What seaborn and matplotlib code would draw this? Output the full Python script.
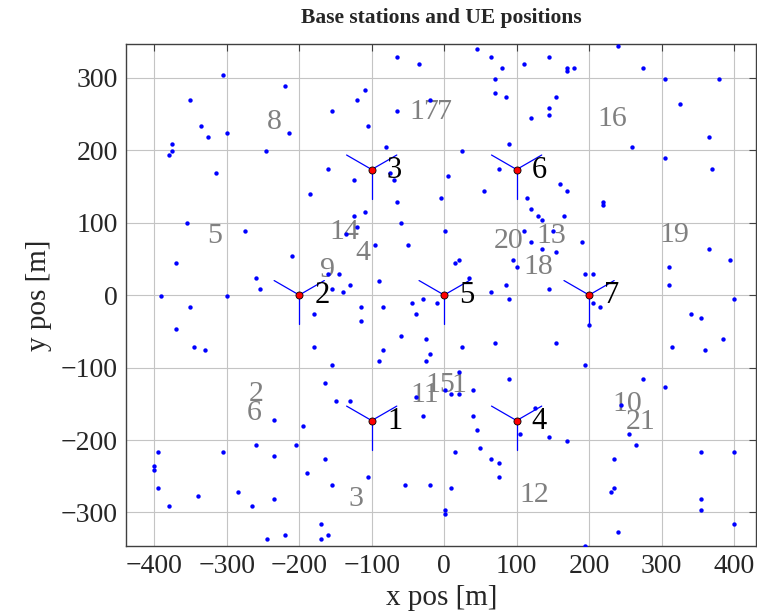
import numpy as np
import pandas as pd
import matplotlib
matplotlib.use("Agg")
import matplotlib.pyplot as plt
import seaborn as sns

# UE positions [m]
ue_x = [
    -65, -34.6, -304.6, -220.3, -109.7, -350.2, -119.8, -19.4, -154.8, -65,
    -335.5, -105.1, -325.3, -300, -214.7, -375.1, -375.1, -380.2, -245.2, -79.7,
    -315.2, -159.9, -124.4, -74.2, -69.6, 5.5, -184.8, -65, -4.6, -124.4,
    -109.7, -355.3, -59.4, -275.1, -119.8, -135, 0.5, -94.9, -49.8, -370,
    -210.1, -259.9, -254.8, -159.9, -144.7, -154.8, -139.6, -130, -89.9, -390.3,
    -300, -29.5,
    45, 64.8, 80, 109.9, 144.8, 170.1, 170.1, 179.8, 240, 274.9,
    70.3, 304.8, 379.8, 70.3, 85.5, 154.9, 144.8, 144.8, 120, 325,
    365, 259.8, 90.1, 24.8, 304.8, 370.1, 75.4, 54.7, 160, 170.1,
    115, 120, 130.1, 135.2, 165.1, 219.8, 219.8, 109.9, 149.9, 120,
    135.2, 154.9, 189.9, 19.8, 14.7, 95.2, 100.2, 365, 394.9, 309.9,
    309.9, 34.9, 85.5, 64.8, 144.8, 194.9, 205.1, 90.1, 400,
    -350.2, -370, -345.2, -330, -179.7, -179.7, -154.8, -114.7, -114.7, -84.8,
    -44.2, -9.2, -39.2, -59.4, -24.9, -84.8, -89.9, -19.4, -24.9, -165,
    -149.8, -130, -235, -194.9, -39.2, -29.5, 0.5, -395.4, -400.5, -400.5,
    -305.1, -259.9, -235, -205.1, -165, -189.9, -154.8, -105.1, -395.4, -340.1,
    -380.2, -284.8, -265, -235, -54.4, -19.4, 0.5, 0.5, -170, -159.9,
    -170, -244.7, -220.2,
    205.1, 215.2, 200, 340.2, 354.9, 384.8, 359.5, 314.9, 24.8, 70.3,
    154.9, 194.9, 19.8, 90.1, 274.9, 304.8, 10.1, 19.8, 40, 40,
    45.1, 125.1, 105.3, 144.8, 170.1, 244.6, 254.7, 264.8, 14.7, 50.1,
    64.8, 75.4, 75.4, 10.1, 235, 235, 229.9, 240, 194.9, 354.9,
    400, 354.9, 354.9, 400,
]
ue_y = [
    329, 318.9, 303.7, 289, 283.4, 268.7, 268.7, 268.7, 254, 254,
    233.7, 233.7, 218.5, 223.6, 223.6, 208.9, 198.8, 193.7, 198.8, 203.8,
    168.8, 173.9, 158.7, 168.8, 158.7, 163.8, 139, 128.8, 133.9, 109,
    114, 98.9, 98.9, 88.8, 93.8, 83.7, 88.8, 69, 69, 43.7,
    53.8, 23.9, 8.7, 28.9, 28.9, 8.7, 3.6, 13.8, 18.8, -1.4,
    -1.4, -5,
    339.1, 329, 313.8, 318.9, 329, 313.8, 308.7, 313.8, 343.7, 313.8,
    298.6, 298.6, 298.6, 278.8, 273.8, 273.8, 258.6, 248.9, 243.9, 263.6,
    218.5, 203.8, 208.9, 198.8, 188.6, 173.9, 173.9, 144, 153.7, 144,
    133.9, 118.7, 109, 104, 109, 128.8, 123.8, 88.8, 88.8, 73.6,
    63.5, 58.9, 73.6, 48.7, 43.7, 48.7, 38.6, 63.5, 48.7, 38.6,
    13.8, 23.9, 13.8, 3.6, 8.7, 28.9, 28.9, -5, -5,
    -16.1, -46.5, -71.3, -76.4, -26.2, -71.3, -96.6, -16.1, -36.4, -16.1,
    -11.5, -11.5, -26.2, -56.1, -61.2, -76.4, -91.1, -81.5, -91.1, -121.5,
    -146.3, -146.3, -172, -181.3, -141.3, -166.6, -131.2, -216.3, -236.1, -241.1,
    -216.3, -206.2, -221.4, -206.2, -226.4, -246.2, -261.4, -251.3, -266.4, -276.6,
    -291.3, -271.5, -291.3, -281.6, -261.4, -261.4, -296.4, -301.4, -316.2, -331.3,
    -336.4, -336.4, -331.3,
    -11.5, -16.1, -41.4, -26.2, -31.3, -61.2, -76.4, -71.3, -71.3, -66.3,
    -66.3, -96.2, -106.3, -116.4, -116.4, -126.5, -136.2, -136.2, -131.2, -166.6,
    -186.4, -156.5, -191.4, -196.5, -201.6, -151.4, -191.4, -206.2, -216.3, -211.2,
    -226.4, -231.5, -251.3, -266.4, -226.4, -266.4, -271.5, -326.3, -346.5, -216.3,
    -216.3, -281.6, -296.4, -316.2,
]

# base stations (hex layout, ISD 200 m)
bs_id = [1, 2, 3, 4, 5, 6, 7]
bs_x = [-100, -200, -100, 100, 0, 100, 200]
bs_y = [-173.2, 0, 173.2, -173.2, 0, 173.2, 0]
sector_angles = [30, 150, 270]
sector_len = 40

# labelled UEs (gray numbers)
lab_id = list(range(1, 22))
lab_x = [20.7, -259.6, -121.9, -112.3, -316.1, -262.4, 0.7, -234.8, -160.5, 252.8,
         -26.9, 124.7, 148.1, -138.4, -4.8, 232.1, -26.8, 130.2, 317.5, 88.8, 270.7]
lab_y = [-123.6, -136.5, -282, 57.5, 81, -162.8, 251.9, 239, 33.9, -150.3,
         -137.4, -276.4, 81, 86.6, -123.6, 243.2, 251.9, 38.1, 82.4, 74.1, -175.3]

ue = pd.DataFrame({"x": ue_x, "y": ue_y})
bs = pd.DataFrame({"x": bs_x, "y": bs_y, "id": bs_id})

sns.set_theme(style="whitegrid")
plt.rcParams["font.family"] = ["Liberation Serif", "DejaVu Serif"]

fig, ax = plt.subplots(figsize=(7.57, 6.15), dpi=100)
fig.subplots_adjust(left=0.1665, right=0.9993, bottom=0.112, top=0.9285)

# sector lines
for x0, y0 in zip(bs_x, bs_y):
    for a in sector_angles:
        r = np.deg2rad(a)
        ax.plot([x0, x0 + sector_len * np.cos(r)], [y0, y0 + sector_len * np.sin(r)],
                color="blue", lw=0.9, zorder=3)

sns.scatterplot(data=ue, x="x", y="y", ax=ax, color="blue", s=10,
                linewidth=0, zorder=4)
sns.scatterplot(data=bs, x="x", y="y", ax=ax, color="red", s=26,
                edgecolor="black", linewidth=0.6, zorder=5)

for i, x0, y0 in zip(bs_id, bs_x, bs_y):
    ax.text(x0 + 21, y0 - 1, str(i), fontsize=22, color="black",
            ha="left", va="center", zorder=6)

for i, x0, y0 in zip(lab_id, lab_x, lab_y):
    ax.text(x0, y0, str(i), fontsize=21.5, color="gray",
            ha="center", va="center", zorder=2)

ax.set_xlim(-439, 431)
ax.set_ylim(-346.4, 346.4)
ax.set_xticks(np.arange(-400, 401, 100))
ax.set_yticks(np.arange(-300, 301, 100))
ax.grid(True, color="#c4c4c4", lw=0.8)
ax.set_axisbelow(True)
for s in ax.spines.values():
    s.set_color("#404040")
    s.set_linewidth(1.0)
ax.tick_params(direction="in", top=True, right=True, length=5, width=0.8,
               color="#404040", labelsize=20, pad=6)

ax.set_title("Base stations and UE positions", fontsize=15.5, fontweight="bold", pad=15)
ax.set_xlabel("x pos [m]", fontsize=21, labelpad=4)
ax.set_ylabel("y pos [m]", fontsize=21, labelpad=6)

fig.savefig("out.png", dpi=100)
